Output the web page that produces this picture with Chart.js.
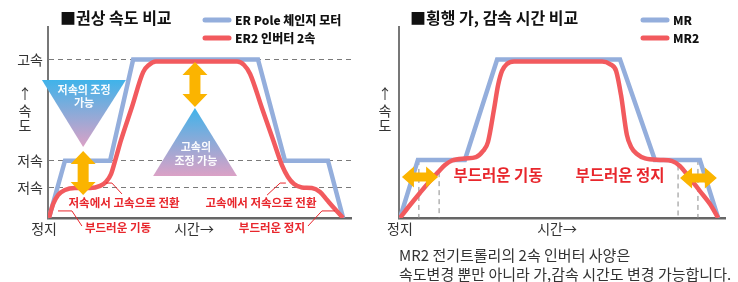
<!DOCTYPE html>
<html lang="ko">
<head>
<meta charset="utf-8">
<script src="https://cdn.jsdelivr.net/npm/chart.js@4.4.1/dist/chart.umd.min.js"></script>
<style>
  html, body { margin: 0; padding: 0; background: #fff; }
  #wrap { position: relative; width: 738px; height: 282px; overflow: hidden; }
  canvas { position: absolute; top: 0; }
  #hoist { left: 0; }
  #travel { left: 369px; }
</style>
</head>
<body>
<div id="wrap">
  <canvas id="hoist" width="369" height="282"></canvas>
  <canvas id="travel" width="369" height="282"></canvas>
</div>
<script>
// time runs 0..100 along the x axis, speed 0..100 up the y axis (100 = top of axis line)

// 권상 속도 비교
const hoistSeries = ["ER Pole 체인지 모터", "ER2 인버터 2속"];
const hoistTicks = [83, 30, 16];
const hoistTickLabels = ["고속", "저속", "저속"];
const poleTime = [0.3, 5.6, 20.5, 28.1, 69.3, 78.2, 92.4, 97.4];
const poleSpeed = [0, 30, 30, 83, 83, 30, 30, 0];
const er2Time = [0.3, 1.7, 3.3, 5.6, 8.9, 13.9, 17.2, 19.1, 20.8, 22.4, 24.1, 27.7, 31.4, 33.3, 35.6,
                 62.4, 64.7, 66.7, 70.6, 74.3, 77.2, 79.2, 81.2, 83.8, 87.1, 89.8, 92.1, 94.7, 97.4];
const er2Speed = [0, 7.3, 12.0, 14.7, 15.7, 15.7, 16.8, 18.8, 23.0, 31.4, 40.8, 58.1, 76.4, 80.1, 81.9,
                  81.9, 80.1, 75.4, 57.6, 40.8, 27.7, 21.5, 17.8, 16.0, 15.7, 13.6, 9.4, 4.7, 0];

// 횡행 가, 감속 시간 비교
const travelSeries = ["MR", "MR2"];
const mrTime = [0.3, 5.8, 20.2, 30.1, 67.8, 78.5, 92.3, 97.9];
const mrSpeed = [0, 30.4, 30.4, 83, 83, 30.4, 30.4, 0];
const mr2Time = [0.3, 3.4, 6.4, 9.5, 12.0, 14.1, 16.3, 20.2, 23.6, 25.8, 27.3, 29.1, 30.4, 31.6, 33.1, 35.3,
                 62.3, 64.7, 66.6, 68.1, 69.9, 71.2, 73.0, 75.5, 80.1, 83.8, 86.2, 88.7, 92.3, 95.4, 97.9];
const mr2Speed = [0, 6.8, 13.1, 19.4, 24.1, 27.7, 30.1, 31.2, 31.9, 35.1, 39.8, 56.5, 69.6, 77.0, 80.6, 81.9,
                  81.9, 80.6, 77.0, 64.4, 43.5, 37.2, 33.5, 31.2, 30.4, 29.8, 27.2, 22.0, 14.1, 7.3, 0];
// dashed time markers on the travel chart
const travelMarkTime = [6.1, 12.3, 85.6, 91.7];
const travelMarkTop = [30.4, 24, 27.5, 30.4];

const FONT = "'Noto Sans CJK KR', 'Noto Sans', sans-serif";
const BLUE = "#94aedc";
const RED = "#f25a5e";
const ORANGE = "#fbb400";
const NOTE_RED = "#e8262c";

function pts(ts, vs) {
  return ts.map((t, i) => ({ x: t, y: vs[i] }));
}

function text(ctx, str, x, y, size, weight, color, align) {
  ctx.font = weight + " " + size + "px " + FONT;
  ctx.fillStyle = color;
  ctx.textAlign = align || "center";
  ctx.textBaseline = "middle";
  ctx.fillText(str, x, y);
}

function doubleArrow(ctx, p1, p2, shaft, headW, headL) {
  const dx = p2[0] - p1[0], dy = p2[1] - p1[1];
  const len = Math.hypot(dx, dy);
  ctx.save();
  ctx.translate(p1[0], p1[1]);
  ctx.rotate(Math.atan2(dy, dx));
  ctx.beginPath();
  ctx.moveTo(0, 0);
  ctx.lineTo(headL, -headW / 2);
  ctx.lineTo(headL, -shaft / 2);
  ctx.lineTo(len - headL, -shaft / 2);
  ctx.lineTo(len - headL, -headW / 2);
  ctx.lineTo(len, 0);
  ctx.lineTo(len - headL, headW / 2);
  ctx.lineTo(len - headL, shaft / 2);
  ctx.lineTo(headL, shaft / 2);
  ctx.lineTo(headL, headW / 2);
  ctx.closePath();
  ctx.fillStyle = ORANGE;
  ctx.fill();
  ctx.restore();
}

function triangle(ctx, a, b, c) {
  const ys = [a[1], b[1], c[1]];
  const g = ctx.createLinearGradient(0, Math.min(...ys), 0, Math.max(...ys));
  g.addColorStop(0, "#3fb3ea");
  g.addColorStop(1, "#dba1c6");
  ctx.beginPath();
  ctx.moveTo(a[0], a[1]);
  ctx.lineTo(b[0], b[1]);
  ctx.lineTo(c[0], c[1]);
  ctx.closePath();
  ctx.fillStyle = g;
  ctx.fill();
}

function polyline(ctx, list, color, width) {
  ctx.beginPath();
  list.forEach((p, i) => i ? ctx.lineTo(p[0], p[1]) : ctx.moveTo(p[0], p[1]));
  ctx.strokeStyle = color;
  ctx.lineWidth = width;
  ctx.stroke();
}

function legend(ctx, x, y, color, label) {
  ctx.save();
  ctx.lineCap = "round";
  polyline(ctx, [[x, y], [x + 24, y]], color, 5);
  ctx.restore();
  text(ctx, label, x + 30, y, 12, "900", "#111", "left");
}

function speedLabel(ctx, x) {
  text(ctx, "↑", x, 94, 14, "normal", "#333");
  text(ctx, "속", x, 111, 14, "normal", "#333");
  text(ctx, "도", x, 126, 14, "normal", "#333");
}

const hoistNotes = {
  id: "hoistNotes",
  afterDatasetsDraw(chart) {
    const { ctx, scales: { x, y } } = chart;
    const P = (t, v) => [x.getPixelForValue(t), y.getPixelForValue(v)];
    ctx.save();
    triangle(ctx, P(-2, 72.3), P(25.7, 72.3), P(11.6, 37.2));
    triangle(ctx, P(48.5, 57.6), P(62.4, 22.0), P(34.7, 22.0));
    const w = "rgba(255,255,255,0.95)";
    text(ctx, "저속의 조정", ...P(11.9, 67.0), 11, "bold", w);
    text(ctx, "가능", ...P(11.9, 60.2), 11, "bold", w);
    text(ctx, "고속의", ...P(48.8, 37.2), 11, "bold", w);
    text(ctx, "조정 가능", ...P(48.8, 29.8), 11, "bold", w);
    doubleArrow(ctx, P(48.5, 81.7), P(48.5, 58.1), 11, 25, 13);
    doubleArrow(ctx, P(11.6, 35.1), P(11.6, 12.0), 11, 25, 13);
    polyline(ctx, [P(19.1, 18.3), P(21.1, 18.3), P(24.4, 12.6)], NOTE_RED, 1);
    polyline(ctx, [P(78.5, 18.3), P(76.6, 18.3), P(72.3, 12.0)], NOTE_RED, 1);
    polyline(ctx, [P(3.3, 3.7), P(7.9, 3.7), P(11.2, -4.2)], NOTE_RED, 1);
    polyline(ctx, [P(94.7, 3.7), P(90.4, 3.7), P(85.8, -4.2)], NOTE_RED, 1);
    text(ctx, "저속에서 고속으로 전환", ...P(25.1, 7.9), 11.5, "bold", NOTE_RED);
    text(ctx, "고속에서 저속으로 전환", ...P(70.3, 7.9), 11.5, "bold", NOTE_RED);
    text(ctx, "부드러운 기동", ...P(23.1, -5.2), 11.5, "bold", NOTE_RED);
    text(ctx, "부드러운 정지", ...P(73.9, -5.2), 11.5, "bold", NOTE_RED);
    text(ctx, "정지", ...P(-1.3, -5.8), 14, "normal", "#333");
    text(ctx, "시간→", ...P(48.2, -5.8), 14, "normal", "#333");
    ctx.restore();
  },
  afterDraw(chart) {
    const ctx = chart.ctx;
    ctx.save();
    text(ctx, "■권상 속도 비교", 60, 18, 16, "bold", "#111", "left");
    const ds = chart.data.datasets;
    legend(ctx, 205, 20, ds[0].borderColor, ds[0].label);
    legend(ctx, 205, 38, ds[1].borderColor, ds[1].label);
    speedLabel(ctx, 25);
    ctx.restore();
  }
};

const travelNotes = {
  id: "travelNotes",
  beforeDatasetsDraw(chart) {
    const { ctx, scales: { x, y } } = chart;
    ctx.save();
    ctx.setLineDash([5, 4]);
    travelMarkTime.forEach((t, i) => {
      polyline(ctx, [[x.getPixelForValue(t), y.getPixelForValue(travelMarkTop[i])],
                     [x.getPixelForValue(t), y.getPixelForValue(0)]], "#8a8a8a", 1);
    });
    ctx.restore();
  },
  afterDatasetsDraw(chart) {
    const { ctx, scales: { x, y } } = chart;
    const P = (t, v) => [x.getPixelForValue(t), y.getPixelForValue(v)];
    ctx.save();
    doubleArrow(ctx, P(0.9, 21.5), P(12.0, 21.5), 9, 21, 12);
    doubleArrow(ctx, P(86.2, 20.9), P(97.5, 20.9), 9, 21, 12);
    text(ctx, "부드러운 기동", ...P(30.4, 22.5), 15.5, "bold", NOTE_RED);
    text(ctx, "부드러운 정지", ...P(67.8, 22.5), 15.5, "bold", NOTE_RED);
    text(ctx, "정지", ...P(0.3, -5.8), 14, "normal", "#333");
    text(ctx, "시간→", ...P(48.5, -5.8), 14, "normal", "#333");
    ctx.restore();
  },
  afterDraw(chart) {
    const ctx = chart.ctx;
    ctx.save();
    text(ctx, "■횡행 가, 감속 시간 비교", 41, 18, 16, "bold", "#111", "left");
    const ds = chart.data.datasets;
    legend(ctx, 274, 20, ds[0].borderColor, ds[0].label);
    legend(ctx, 274, 38, ds[1].borderColor, ds[1].label);
    speedLabel(ctx, 16);
    text(ctx, "MR2 전기트롤리의 2속 인버터 사양은", 30, 255, 15, "normal", "#333", "left");
    text(ctx, "속도변경 뿐만 아니라 가,감속 시간도 변경 가능합니다.", 30, 274, 15, "normal", "#333", "left");
    ctx.restore();
  }
};

function speedChart(canvas, datasets, axisLeft, padRight, yTicks, notes) {
  return new Chart(canvas, {
    type: "line",
    data: { datasets: datasets },
    options: {
      responsive: false,
      animation: false,
      events: [],
      layout: { padding: { top: 27, right: padRight, bottom: 64, left: 0 } },
      plugins: { legend: { display: false }, tooltip: { enabled: false } },
      scales: {
        x: {
          type: "linear", min: 0, max: 100,
          ticks: { display: false },
          grid: { display: false },
          border: { color: "#666", width: 2.5 },
          afterFit: s => { s.height = 0; }
        },
        y: Object.assign({
          type: "linear", min: 0, max: 100,
          afterFit: s => { s.width = axisLeft; }
        }, yTicks)
      }
    },
    plugins: [notes]
  });
}

function lineSet(label, data, color, smooth, order) {
  return {
    label: label,
    data: data,
    borderColor: color,
    borderWidth: 4.5,
    pointRadius: 0,
    fill: false,
    order: order,
    borderJoinStyle: smooth ? "round" : "miter",
    cubicInterpolationMode: smooth ? "monotone" : "default",
    tension: 0
  };
}

speedChart(document.getElementById("hoist"), [
  lineSet(hoistSeries[0], pts(poleTime, poleSpeed), BLUE, false, 1),
  lineSet(hoistSeries[1], pts(er2Time, er2Speed), RED, true, 0)
], 48, 18, {
  afterBuildTicks: s => { s.ticks = hoistTicks.map(v => ({ value: v })); },
  ticks: {
    autoSkip: false, padding: 5, color: "#333",
    font: { family: FONT, size: 14 },
    callback: (v, i) => hoistTickLabels[i]
  },
  grid: { color: "#7a7a7a", lineWidth: 1, drawTicks: false },
  border: { color: "#777", width: 2, dash: [5, 4] }
}, hoistNotes);

speedChart(document.getElementById("travel"), [
  lineSet(travelSeries[0], pts(mrTime, mrSpeed), BLUE, false, 1),
  lineSet(travelSeries[1], pts(mr2Time, mr2Speed), RED, true, 0)
], 30, 13, {
  ticks: { display: false },
  grid: { display: false },
  border: { color: "#777", width: 2 }
}, travelNotes);
</script>
</body>
</html>
